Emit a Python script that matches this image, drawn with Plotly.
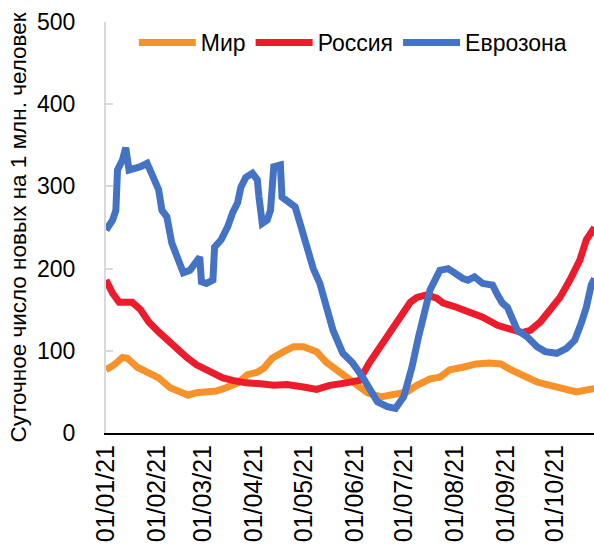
import pandas as pd
import plotly.graph_objects as go

START = "2021-01-01"

# Мир (World) — day offset from 01/01/21, value
world_day = [0, 5, 10, 13, 19, 25, 32, 39, 45, 50, 55, 61, 67, 73, 80, 86, 92, 96, 101, 108,
             114, 120, 128, 134, 140, 146, 153, 159, 167, 175, 183, 189, 197, 203, 209, 217,
             225, 233, 240, 246, 253, 262, 270, 278, 286, 294, 297]
world_val = [77, 83, 92, 91, 80, 74, 67, 55, 49, 46, 49, 49, 51, 55, 61, 71, 74, 79, 91, 99,
             105, 105, 99, 86, 77, 68, 56, 49, 44, 46, 50, 58, 66, 68, 77, 80,
             84, 85, 84, 77, 71, 62, 58, 55, 50, 53, 54]

# Россия (Russia)
russia_day = [0, 4, 8, 13, 16, 21, 26, 32, 37, 43, 49, 55, 61, 66, 71, 77, 85, 94, 102, 110,
              118, 120, 128, 136, 146, 154, 160, 167, 173, 179, 185, 189, 195, 201, 205, 213,
              221, 229, 238, 246, 253, 258, 264, 270, 276, 282, 288, 292, 297]
russia_val = [186, 170, 159, 158, 159, 150, 135, 123, 113, 103, 92, 83, 77, 73, 67, 64, 61, 60, 58, 59,
              58, 56, 53, 58, 61, 64, 85, 105, 125, 141, 159, 165, 168, 164, 158, 153,
              147, 141, 131, 125, 122, 125, 135, 150, 165, 186, 210, 235, 250]

# Еврозона (Eurozone)
euro_day = [0, 4, 6, 7, 10, 12, 14, 18, 21, 25, 29, 32, 34, 37, 40, 43, 47, 51, 55, 57, 58, 61,
            65, 66, 70, 74, 77, 80, 82, 85, 89, 92, 93, 95, 98, 100, 102, 106, 107, 111, 115,
            118, 122, 126, 130, 133, 138, 144, 150, 156, 161, 165, 171, 176, 181, 186, 190,
            194, 197, 200, 203, 208, 212, 217, 220, 224, 229, 235, 238, 241, 244, 248, 250,
            256, 262, 267, 274, 280, 285, 289, 292, 295, 297]
euro_val = [247, 259, 271, 320, 332, 347, 320, 322, 324, 328, 311, 296, 271, 263, 231, 214, 195, 198, 210, 214, 184, 182,
            186, 226, 235, 251, 268, 280, 299, 311, 316, 308, 287, 255, 259, 271, 324, 326, 287, 281, 275,
            255, 226, 200, 182, 158, 125, 97, 85, 68, 52, 38, 32, 30, 44, 80, 117,
            150, 174, 186, 198, 200, 194, 188, 186, 190, 182, 180, 168, 158, 153, 137, 125,
            117, 105, 99, 97, 103, 113, 134, 153, 180, 188]

Y_TICKS = [0, 100, 200, 300, 400, 500]


def to_dates(days):
    return pd.Timestamp(START) + pd.to_timedelta(days, unit="D")


series = [
    ("Мир", world_day, world_val, "#F7922B"),
    ("Россия", russia_day, russia_val, "#EC1C2C"),
    ("Еврозона", euro_day, euro_val, "#4472C4"),
]

fig = go.Figure()
for name, d, v, c in series:
    fig.add_trace(go.Scatter(x=to_dates(d), y=v, mode="lines", name=name,
                             line=dict(color=c, width=7)))

FONT = "Liberation Sans"
fig.update_layout(
    width=594, height=553,
    margin=dict(l=106, r=0, t=22, b=120, autoexpand=False),
    paper_bgcolor="white", plot_bgcolor="white",
    font=dict(family=FONT, size=23, color="#000000"),
    showlegend=True,
    legend=dict(orientation="h", x=0.057, y=0.95, xanchor="left", yanchor="middle",
                font=dict(size=23, family=FONT), bgcolor="rgba(0,0,0,0)",
                itemwidth=57, tracegroupgap=0, itemclick=False),
    xaxis=dict(
        type="date", automargin=False,
        range=[pd.Timestamp(START), pd.Timestamp("2021-10-24 16:00")],
        tickmode="linear", tick0=START, dtick="M1", tickformat="%d/%m/%y",
        tickangle=-90, tickfont=dict(size=25, family=FONT),
        showline=True, linecolor="#000000", linewidth=2,
        ticks="", showgrid=False, zeroline=False,
    ),
    yaxis=dict(
        range=[0, 500], tickvals=Y_TICKS, automargin=False,
        tickfont=dict(size=23, family=FONT),
        showline=True, linecolor="#D9D9D9", linewidth=2,
        ticks="inside", ticklen=7, tickcolor="#D9D9D9", tickwidth=2,
        ticklabelstandoff=24,
        showgrid=False, zeroline=False,
        title=dict(text="Суточное число новых на 1 млн. человек",
                   font=dict(size=22.5, family=FONT), standoff=4),
    ),
)

fig.write_html(
    "out.html",
    config={"displayModeBar": False},
    post_script=("document.body.style.margin='0';"
                 "document.body.style.overflow='hidden';"
                 "document.documentElement.style.overflow='hidden';"),
)
